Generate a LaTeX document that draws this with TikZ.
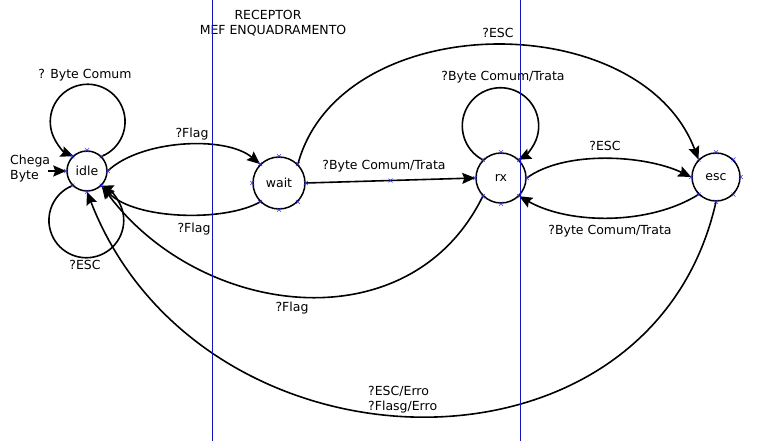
\documentclass[tikz,border=0pt]{standalone}
\usepackage{fontspec}
\setmainfont{DejaVu Sans}
\usetikzlibrary{arrows.meta}
\definecolor{mk}{RGB}{50,50,230}
\definecolor{vl}{RGB}{20,20,190}
\begin{document}
\begin{tikzpicture}[x=1pt,y=-1pt,
  font=\fontsize{12.5}{15}\selectfont,
  st/.style={circle,draw,line width=1.5pt,inner sep=0pt},
  edge/.style={line width=1.6pt,-{Stealth[length=13pt,width=11pt,inset=2pt]}},
  lbl/.style={inner sep=0pt},
  xm/.pic={\draw[mk,line width=0.5pt] (-2,-2)--(2,2) (-2,2)--(2,-2);}]
\useasboundingbox (0,0) rectangle (761,441);
% states
\node[st,minimum size=40pt] (idle) at (87,171) {idle};
\node[st,minimum size=52pt] (wait) at (279,183) {wait};
\node[st,minimum size=50pt] (rx) at (501,178) {rx};
\node[st,minimum size=48pt] (esc) at (716,177) {esc};
% initial arrow
\coordinate (ini) at (48,171);
\node[lbl,align=left,anchor=west] (chega) at (10,169) {Chega\\Byte};
\draw[edge] (ini) -- (idle.west);
% idle loops
\draw[edge] (idle.north east) arc[start angle=-68, end angle=248, radius=37.4pt];
\draw[edge] (idle.south west) arc[start angle=112, end angle=428, radius=37.4pt];
% idle <-> wait
\draw[edge] (idle.east) .. controls (140,140) and (225,135) .. (wait.north west);
\draw[edge] (wait.south west) .. controls (225,222) and (135,220) .. (idle.south east);
% wait -> rx
\draw[edge] (wait.east) -- coordinate[pos=0.5] (mid) (rx.west);
% wait -> esc
\draw[edge] (wait.north east) .. controls (340,8) and (640,5) .. (esc.north west);
% rx loop
\draw[edge] (rx.north west) arc[start angle=242.4, end angle=-62.4, radius=38.2pt];
% rx <-> esc
\draw[edge] (rx.east) .. controls (565,150) and (645,155) .. (esc.west);
\draw[edge] (esc.south west) .. controls (650,225) and (570,225) .. (rx.south east);
% rx -> idle
\draw[edge] (rx.south west) .. controls (410,345) and (200,318) .. (idle.south east);
% esc -> idle
\draw[edge] (esc.south) .. controls (650,495) and (200,483) .. (idle.south);
% labels
\node[lbl] (l1) at (85,75) {? Byte Comum};
\node[lbl] (l2) at (85,265) {?ESC};
\node[lbl] (l3) at (192,134) {?Flag};
\node[lbl] (l4) at (194,229) {?Flag};
\node[lbl] (l5) at (384,166) {?Byte Comum/Trata};
\node[lbl] (l6) at (498,33) {?ESC};
\node[lbl] (l7) at (503,77) {?Byte Comum/Trata};
\node[lbl] (l8) at (605,146) {?ESC};
\node[lbl] (l9) at (610,231) {?Byte Comum/Trata};
\node[lbl] (l10) at (292,308) {?Flag};
\node[lbl,align=left,anchor=west] (l11) at (368,400) {?ESC/Erro\\?Flasg/Erro};
\node[lbl] (t1) at (268,15) {RECEPTOR};
\node[lbl] (t2) at (273,31) {MEF ENQUADRAMENTO};
% markers
\foreach \n in {idle,wait,rx,esc}{
  \foreach \a in {north,north east,east,south east,south,south west,west,north west}{
    \path (\n.\a) pic {xm};
  }
}
\path (mid) pic {xm};
% vertical lines
\draw[vl,line width=0.9pt] (212,0) -- (212,441);
\draw[vl,line width=0.9pt] (520,0) -- (520,441);
\end{tikzpicture}
\end{document}
